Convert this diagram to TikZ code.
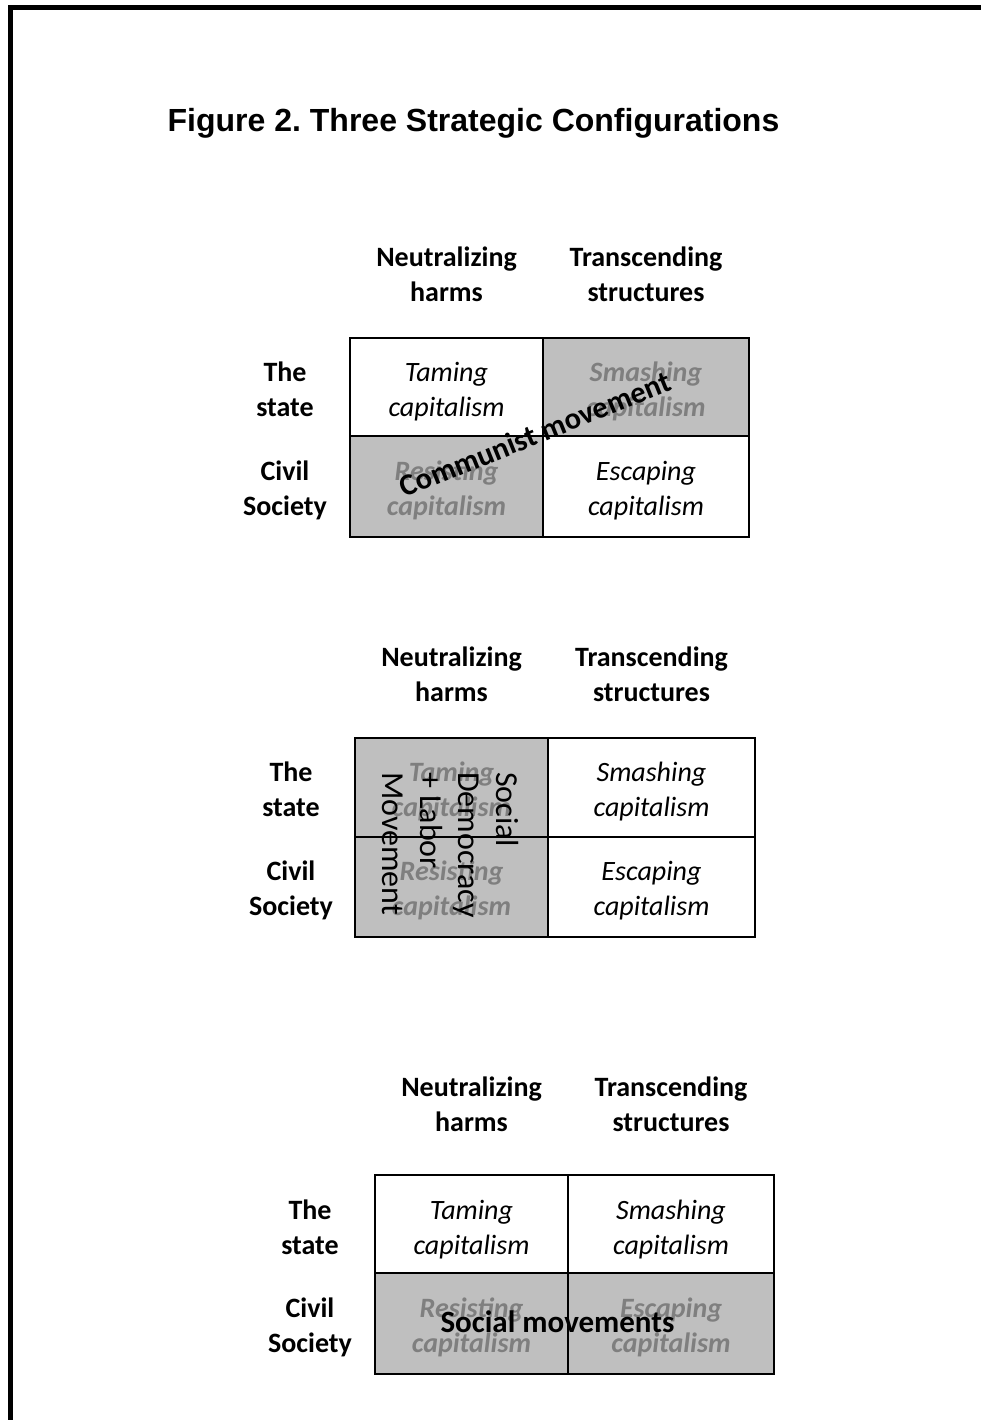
\documentclass[tikz,border=0pt]{standalone}
\usepackage{fontspec}
\setmainfont{Carlito}
\newfontfamily\titlefont{Liberation Sans}
\frenchspacing
\definecolor{cellgray}{HTML}{BFBFBF}
\definecolor{txtgray}{HTML}{7F7F7F}
\tikzset{
  body/.style={font=\fontsize{28}{35}\selectfont, align=center, inner sep=0pt},
  cellw/.style={body, font=\fontsize{28}{35}\selectfont\itshape},
  cellg/.style={body, font=\fontsize{28}{35}\selectfont\bfseries\itshape, text=txtgray},
  hdr/.style={body, font=\fontsize{28}{35}\selectfont\bfseries},
  gridline/.style={line width=1.5pt},
  overlaytxt/.style={inner sep=0pt, text=black},
}
\begin{document}
\begin{tikzpicture}[x=1pt,y=-1pt]
\useasboundingbox (0,0) rectangle (980,1420);
\fill[white] (0,0) rectangle (980,1420);
% frame
\draw[line width=5pt] (10.5,1430) -- (10.5,7.5) -- (990,7.5);
% title
\node[inner sep=0pt, anchor=base, font=\titlefont\fontsize{32}{38}\selectfont\bfseries] (title) at (473.5,132) {Figure 2. Three Strategic Configurations};

% ===== Grid 1 =====
\fill[cellgray] (543,338) rectangle (749,436);
\fill[cellgray] (350,436) rectangle (543,537);
\draw[gridline] (350,338) rectangle (749,537);
\draw[gridline] (543,338) -- (543,537);
\draw[gridline] (350,436) -- (749,436);
\node[hdr] (a-h1) at (446.5,274.5) {Neutralizing\\harms};
\node[hdr] (a-h2) at (646,274.5) {Transcending\\structures};
\node[hdr] (a-r1) at (285,389.5) {The\\state};
\node[hdr] (a-r2) at (285,490.5) {Civil\\Society};
\node[cellw] (a-c11) at (446.5,391.5) {Taming\\capitalism};
\node[cellg] (a-c12) at (646,391.5) {Smashing\\capitalism};
\node[cellg] (a-c21) at (446.5,490.5) {Resisting\\capitalism};
\node[cellw] (a-c22) at (646,490.5) {Escaping\\capitalism};
\node[overlaytxt, rotate=22, font=\fontsize{30.5}{36}\selectfont\bfseries] (a-ov) at (535,434) {Communist movement};

% ===== Grid 2 =====
\fill[cellgray] (355,738) rectangle (548,937);
\draw[gridline] (355,738) rectangle (755,937);
\draw[gridline] (548,738) -- (548,937);
\draw[gridline] (355,837) -- (755,837);
\node[hdr] (b-h1) at (451.5,674) {Neutralizing\\harms};
\node[hdr] (b-h2) at (651.5,674) {Transcending\\structures};
\node[hdr] (b-r1) at (291,789.5) {The\\state};
\node[hdr] (b-r2) at (291,890.5) {Civil\\Society};
\node[cellg] (b-c11) at (451.5,791.5) {Taming\\capitalism};
\node[cellw] (b-c12) at (651.5,791.5) {Smashing\\capitalism};
\node[cellg] (b-c21) at (451.5,890.5) {Resisting\\capitalism};
\node[cellw] (b-c22) at (651.5,890.5) {Escaping\\capitalism};
\node[overlaytxt, rotate=-90, anchor=west, align=left, font=\fontsize{32}{38}\selectfont] (b-ov) at (450.5,772) {Social\\Democracy\\+ Labor\\Movement};

% ===== Grid 3 =====
\fill[cellgray] (375,1273) rectangle (774,1374);
\draw[gridline] (375,1175) rectangle (774,1374);
\draw[gridline] (568,1175) -- (568,1374);
\draw[gridline] (375,1273) -- (774,1273);
\node[hdr] (c-h1) at (471.5,1104.5) {Neutralizing\\harms};
\node[hdr] (c-h2) at (671,1104.5) {Transcending\\structures};
\node[hdr] (c-r1) at (310,1227.5) {The\\state};
\node[hdr] (c-r2) at (310,1327.5) {Civil\\Society};
\node[cellw] (c-c11) at (471.5,1229.5) {Taming\\capitalism};
\node[cellw] (c-c12) at (671,1229.5) {Smashing\\capitalism};
\node[cellg] (c-c21) at (471.5,1327.5) {Resisting\\capitalism};
\node[cellg] (c-c22) at (671,1327.5) {Escaping\\capitalism};
\node[overlaytxt, anchor=base, font=\fontsize{31}{37}\selectfont\bfseries] (c-ov) at (557.5,1332) {Social movements};
\end{tikzpicture}
\end{document}
